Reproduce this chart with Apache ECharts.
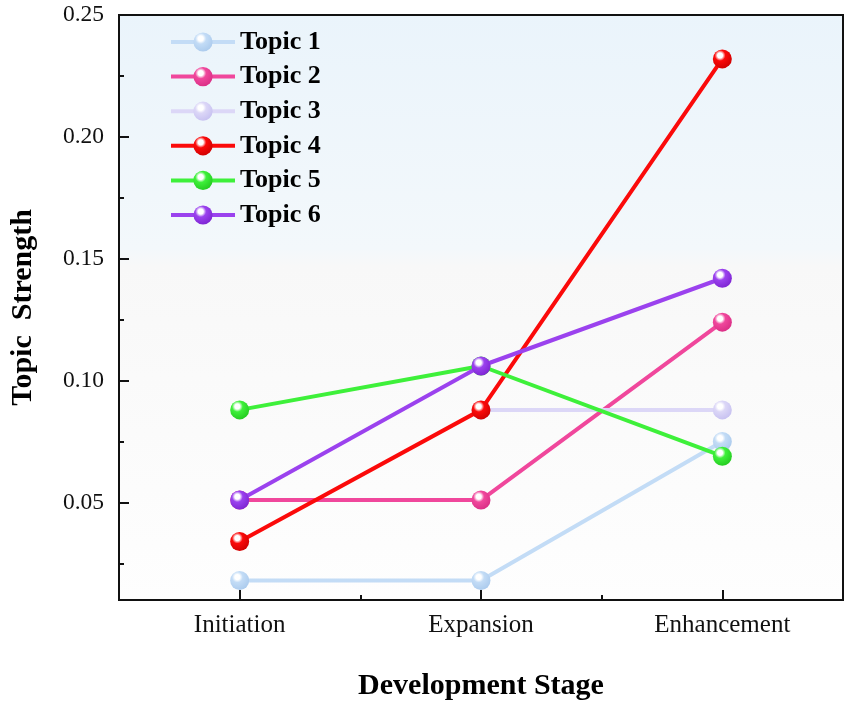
<!DOCTYPE html>
<html>
<head>
<meta charset="utf-8">
<script src="https://cdn.jsdelivr.net/npm/echarts@6/dist/echarts.min.js"></script>
<style>
html,body{margin:0;padding:0;background:#fff;}
#chart{width:851px;height:706px;}
</style>
</head>
<body>
<div id="chart"></div>
<script>
var categories = ['Initiation', 'Expansion', 'Enhancement'];
var topicNames = ['Topic 1', 'Topic 2', 'Topic 3', 'Topic 4', 'Topic 5', 'Topic 6'];
var topic1 = [0.018, 0.018, 0.075];
var topic2 = [0.051, 0.051, 0.124];
var topic3 = [null, 0.088, 0.088];
var topic4 = [0.034, 0.088, 0.232];
var topic5 = [0.088, 0.106, 0.069];
var topic6 = [0.051, 0.106, 0.142];
var majorTicks = [0.05, 0.10, 0.15, 0.20, 0.25];
var minorTicks = [0.025, 0.075, 0.125, 0.175, 0.225];

var topicData = [topic1, topic2, topic3, topic4, topic5, topic6];
var colors = ['#c3dcf6', '#f0479c', '#dcd7f7', '#fb0a0a', '#3ef03a', '#9b42ee'];
var darks = ['#a9c9ec', '#d82c84', '#c5bff0', '#cc0000', '#22c81e', '#7b22d0'];

var FONT = '"Liberation Serif", "Times New Roman", serif';

function ball(c, d) {
  return {
    type: 'radial', x: 0.38, y: 0.32, r: 0.75,
    colorStops: [
      {offset: 0, color: '#ffffff'},
      {offset: 0.18, color: '#ffffff'},
      {offset: 0.38, color: c},
      {offset: 1, color: d}
    ]
  };
}

var series = topicData.map(function (arr, i) {
  return {
    name: topicNames[i],
    type: 'line',
    data: arr,
    xAxisIndex: 0,
    yAxisIndex: 0,
    symbol: 'circle',
    symbolSize: 19,
    connectNulls: false,
    lineStyle: {color: colors[i], width: 4},
    itemStyle: {color: ball(colors[i], darks[i])},
    emphasis: {disabled: true},
    z: 2 + i
  };
});

var chart = echarts.init(document.getElementById('chart'));
chart.setOption({
  animation: false,
  backgroundColor: '#ffffff',
  grid: {
    left: 117, right: 8, top: 15, bottom: 105,
    show: true,
    borderColor: '#111',
    borderWidth: 2,
    backgroundColor: {
      type: 'linear', x: 0, y: 0, x2: 0, y2: 1,
      colorStops: [
        {offset: 0, color: '#eaf4fb'},
        {offset: 0.40, color: '#f3f8fb'},
        {offset: 0.43, color: '#f8f8f8'},
        {offset: 1, color: '#fefefe'}
      ]
    }
  },
  legend: {
    data: topicNames,
    orient: 'vertical',
    left: 164,
    top: 23,
    itemWidth: 64,
    itemHeight: 24,
    itemGap: 6.6,
    lineStyle: {width: 4},
    textStyle: {fontFamily: FONT, fontSize: 26, fontWeight: 'bold', color: '#000', lineHeight: 28},
    selectedMode: false
  },
  xAxis: [{
    type: 'category',
    data: categories,
    boundaryGap: true,
    name: 'Development Stage',
    nameLocation: 'middle',
    nameGap: 71,
    nameTextStyle: {fontFamily: FONT, fontSize: 30, fontWeight: 'bold', color: '#000'},
    axisLine: {lineStyle: {color: '#111', width: 2}},
    axisTick: {show: true, inside: true, length: 10, alignWithLabel: true, lineStyle: {color: '#111', width: 2}},
    axisLabel: {fontFamily: FONT, fontSize: 25, color: '#111', margin: 13},
    splitLine: {show: false}
  }, {
    type: 'category',
    data: categories,
    boundaryGap: true,
    position: 'bottom',
    axisLine: {show: false},
    axisTick: {show: true, inside: true, length: 5, lineStyle: {color: '#111', width: 2}},
    axisLabel: {show: false},
    splitLine: {show: false}
  }],
  yAxis: [{
    type: 'value',
    min: 0.01,
    max: 0.25,
    name: 'Topic  Strength',
    nameLocation: 'middle',
    nameGap: 81,
    nameRotate: 90,
    nameTextStyle: {fontFamily: FONT, fontSize: 30, fontWeight: 'bold', color: '#000'},
    axisLine: {show: true, lineStyle: {color: '#111', width: 2}},
    axisTick: {show: true, inside: true, length: 10, customValues: majorTicks, lineStyle: {color: '#111', width: 2}},
    axisLabel: {
      fontFamily: FONT, fontSize: 23.5, color: '#111', margin: 15,
      customValues: majorTicks,
      formatter: function (v) { return v.toFixed(2); }
    },
    splitLine: {show: false}
  }, {
    type: 'value',
    min: 0.01,
    max: 0.25,
    position: 'left',
    axisLine: {show: false},
    axisTick: {show: true, inside: true, length: 5, customValues: minorTicks, lineStyle: {color: '#111', width: 2}},
    axisLabel: {show: false, customValues: minorTicks},
    splitLine: {show: false}
  }],
  series: series
});
</script>
</body>
</html>
